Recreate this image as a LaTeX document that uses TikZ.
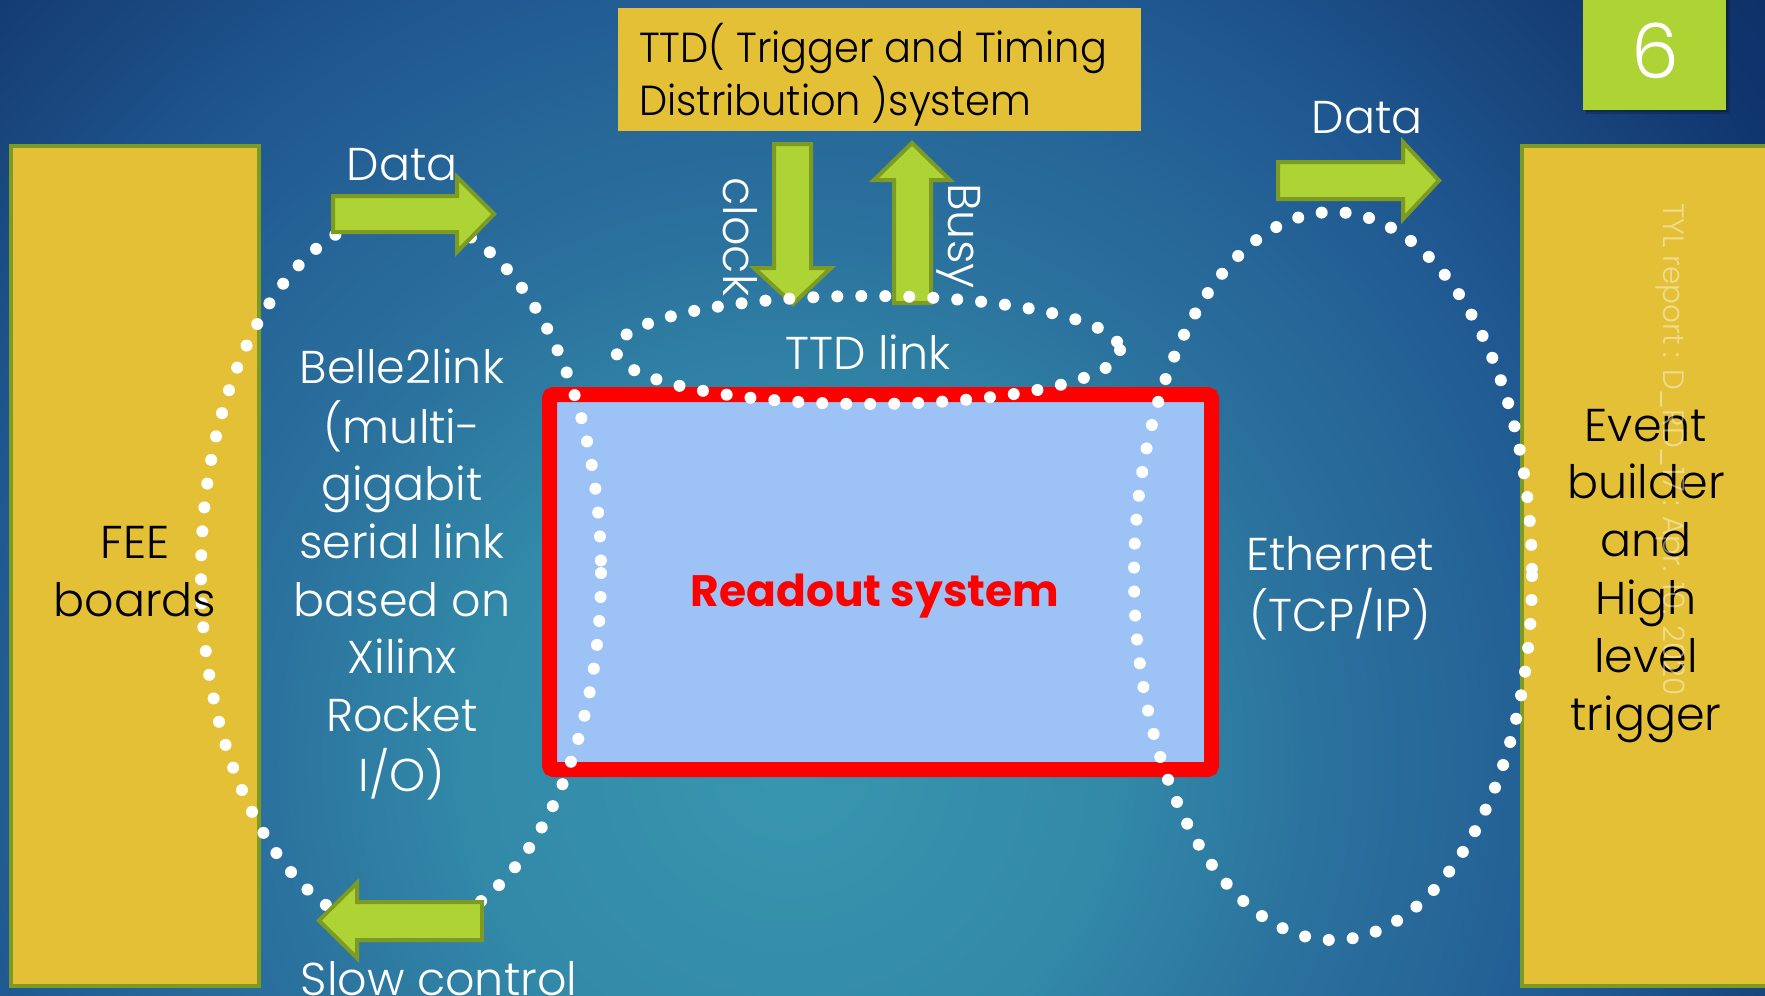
\documentclass[tikz,border=0pt]{standalone}
\usepackage{fontspec}
\setmainfont{Poppins}[UprightFont={* Light}, BoldFont={* Bold}]
\definecolor{bgA}{HTML}{3896B0}
\definecolor{bgB}{HTML}{3289A8}
\definecolor{bgC}{HTML}{2B729E}
\definecolor{bgD}{HTML}{266698}
\definecolor{bgE}{HTML}{1F5790}
\definecolor{bgF}{HTML}{18447B}
\definecolor{bgG}{HTML}{10366F}
\definecolor{bgH}{HTML}{0E3068}
\definecolor{boxyellow}{HTML}{E4C036}
\definecolor{olivedge}{HTML}{7D9B22}
\definecolor{limefill}{HTML}{ADD434}
\definecolor{readblue}{HTML}{9DC3F6}
\definecolor{readred}{HTML}{FF0000}
\pgfdeclareradialshading{bgshade}{\pgfpoint{0bp}{0bp}}{color(0bp)=(bgA); color(6.5bp)=(bgB); color(10.5bp)=(bgC); color(13.5bp)=(bgD); color(16.8bp)=(bgE); color(20.3bp)=(bgF); color(23bp)=(bgG); color(25bp)=(bgH); color(50bp)=(bgH)}
\newcommand{\mlc}[1]{\begin{tabular}[t]{@{}c@{}}#1\end{tabular}}
\newcommand{\mll}[1]{\begin{tabular}[t]{@{}l@{}}#1\end{tabular}}
\begin{document}
\begin{tikzpicture}[x=1pt,y=-1pt,
  ybox/.style={fill=boxyellow, draw=olivedge, line width=4pt},
  garrow/.style={fill=limefill, draw=olivedge, line width=4pt, line join=miter},
  dots/.style={draw=white, line width=12pt, line cap=round, dash pattern=on 0pt off 24pt},
  lbl/.style={text=white, font=\fontsize{46}{57.6}\selectfont, inner sep=0pt, anchor=base},
  dlbl/.style={text=black, font=\fontsize{46}{57.6}\selectfont, inner sep=0pt, anchor=base},
]
\useasboundingbox (0,0) rectangle (1765,996);
\begin{scope}
\clip (0,0) rectangle (1765,996);
% background
\fill[shading=bgshade] (790,760) circle[radius=1250pt];

% boxes
\draw[ybox] (11,146) rectangle (259,986);
\draw[ybox] (1522,146) rectangle (1780,986);
\fill[boxyellow] (618,8) rectangle (1141,131);
\draw[readred, fill=readblue, line width=15pt, rounded corners=4pt] (549.5,394.5) rectangle (1211.5,769.5);

% slide number box with shadow
\fill[black, opacity=0.18] (1586,-5) rectangle (1730,114);
\fill[black, opacity=0.15] (1585,-5) rectangle (1728,112);
\fill[limefill] (1583,-5) rectangle (1726,110);
\node[text=white, font=\fontsize{76}{80}\selectfont, inner sep=0pt, anchor=base] (num) at (1655,78) {6};

% TTD arrows
\draw[garrow] (774,144) -- (811,144) -- (811,268) -- (831,268) -- (793,304) -- (754,268) -- (774,268) -- cycle;
\draw[garrow] (894,303) -- (931,303) -- (931,180) -- (950,180) -- (912,143) -- (874,180) -- (894,180) -- cycle;

% dotted ellipses
\draw[dots] (401,573) ellipse[x radius=200, y radius=358];
\draw[dots] (1333,576) ellipse[x radius=199, y radius=364];
\draw[dots] (868,350) ellipse[x radius=252, y radius=54];

% data / slow control arrows
\draw[garrow] (333,196) -- (457,196) -- (457,177) -- (494,214) -- (457,252) -- (457,232) -- (333,232) -- cycle;
\draw[garrow] (1278,162) -- (1403,162) -- (1403,142) -- (1439,180.5) -- (1403,219) -- (1403,199) -- (1278,199) -- cycle;
\draw[garrow] (482,902) -- (357,902) -- (357,883) -- (319,920.5) -- (357,958) -- (357,940) -- (482,940) -- cycle;

% texts
\node[dlbl] (fee) at (135,558) {\fontsize{46}{58}\selectfont\mlc{FEE\\boards}};
\node[dlbl] (eb) at (1646,441) {\fontsize{46}{57.8}\selectfont\mlc{Event\\builder\\and\\High\\level\\trigger}};
\node[dlbl, anchor=base west] (ttd) at (639,62) {\fontsize{42}{49}\selectfont\scalebox{0.95}[1]{\mll{TTD( Trigger and Timing\\Distribution )system}}};
\node[lbl] (b2l) at (402,383) {\mlc{Belle2link\\(multi-\\gigabit\\serial link\\based on\\Xilinx\\Rocket\\I/O)}};
\node[lbl] (eth) at (1340,570) {\fontsize{46}{60}\selectfont\mlc{Ethernet\\(TCP/IP)}};
\node[lbl] (ttdl) at (868,369) {TTD link};
\node[lbl] (dataL) at (402,180) {Data};
\node[lbl] (dataR) at (1367,133) {Data};
\node[lbl] (slow) at (439,995) {Slow control};
\node[lbl, rotate=-90] (clk) at (723,237) {clock};
\node[lbl, rotate=-90] (busy) at (948,236) {Busy};
\node[text=readred, font=\fontsize{44}{52}\selectfont\bfseries, inner sep=0pt, anchor=base] (ro) at (875,606) {Readout system};

% watermark
\node[text=white, opacity=0.45, font=\fontsize{29.5}{32}\selectfont, inner sep=0pt, anchor=base west, rotate=-90] (wm) at (1663,203) {TYL report : D\_RD\_17 : Apr. 10. 2020};
\end{scope}
\end{tikzpicture}
\end{document}
